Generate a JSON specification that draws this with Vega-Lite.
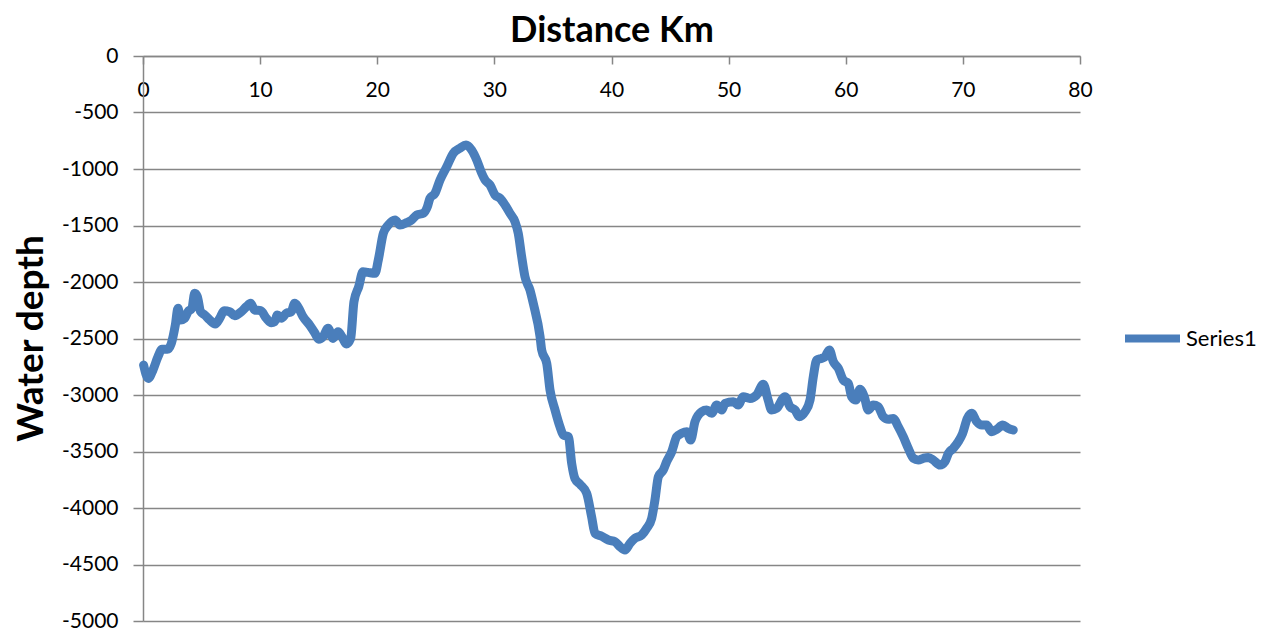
{
  "$schema": "https://vega.github.io/schema/vega-lite/v6.json",
  "width": 937,
  "height": 565,
  "autosize": {"type": "none"},
  "padding": {"left": 143, "top": 56, "right": 184, "bottom": 14},
  "background": "white",
  "config": {
    "view": {"stroke": null},
    "font": "Lato"
  },
  "data": {
    "values": [
      {"km": 0.05, "depth": -2735, "series": "Series1"},
      {"km": 0.45, "depth": -2853, "series": "Series1"},
      {"km": 0.85, "depth": -2779, "series": "Series1"},
      {"km": 1.28, "depth": -2661, "series": "Series1"},
      {"km": 1.62, "depth": -2596, "series": "Series1"},
      {"km": 2.08, "depth": -2596, "series": "Series1"},
      {"km": 2.42, "depth": -2543, "series": "Series1"},
      {"km": 2.76, "depth": -2381, "series": "Series1"},
      {"km": 2.99, "depth": -2233, "series": "Series1"},
      {"km": 3.22, "depth": -2336, "series": "Series1"},
      {"km": 3.56, "depth": -2321, "series": "Series1"},
      {"km": 3.84, "depth": -2263, "series": "Series1"},
      {"km": 4.18, "depth": -2233, "series": "Series1"},
      {"km": 4.41, "depth": -2100, "series": "Series1"},
      {"km": 4.64, "depth": -2130, "series": "Series1"},
      {"km": 4.92, "depth": -2263, "series": "Series1"},
      {"km": 5.27, "depth": -2292, "series": "Series1"},
      {"km": 5.69, "depth": -2336, "series": "Series1"},
      {"km": 6.17, "depth": -2372, "series": "Series1"},
      {"km": 6.55, "depth": -2321, "series": "Series1"},
      {"km": 6.92, "depth": -2254, "series": "Series1"},
      {"km": 7.40, "depth": -2263, "series": "Series1"},
      {"km": 7.83, "depth": -2298, "series": "Series1"},
      {"km": 8.39, "depth": -2263, "series": "Series1"},
      {"km": 8.82, "depth": -2219, "series": "Series1"},
      {"km": 9.19, "depth": -2189, "series": "Series1"},
      {"km": 9.54, "depth": -2248, "series": "Series1"},
      {"km": 10.05, "depth": -2254, "series": "Series1"},
      {"km": 10.53, "depth": -2321, "series": "Series1"},
      {"km": 10.96, "depth": -2360, "series": "Series1"},
      {"km": 11.24, "depth": -2351, "series": "Series1"},
      {"km": 11.47, "depth": -2292, "series": "Series1"},
      {"km": 11.81, "depth": -2321, "series": "Series1"},
      {"km": 12.24, "depth": -2277, "series": "Series1"},
      {"km": 12.66, "depth": -2263, "series": "Series1"},
      {"km": 12.95, "depth": -2189, "series": "Series1"},
      {"km": 13.23, "depth": -2219, "series": "Series1"},
      {"km": 13.66, "depth": -2307, "series": "Series1"},
      {"km": 14.23, "depth": -2381, "series": "Series1"},
      {"km": 14.66, "depth": -2449, "series": "Series1"},
      {"km": 15.0, "depth": -2507, "series": "Series1"},
      {"km": 15.37, "depth": -2484, "series": "Series1"},
      {"km": 15.80, "depth": -2410, "series": "Series1"},
      {"km": 16.22, "depth": -2499, "series": "Series1"},
      {"km": 16.65, "depth": -2440, "series": "Series1"},
      {"km": 16.99, "depth": -2484, "series": "Series1"},
      {"km": 17.36, "depth": -2549, "series": "Series1"},
      {"km": 17.73, "depth": -2499, "series": "Series1"},
      {"km": 18.01, "depth": -2175, "series": "Series1"},
      {"km": 18.42, "depth": -2041, "series": "Series1"},
      {"km": 18.78, "depth": -1909, "series": "Series1"},
      {"km": 19.2, "depth": -1915, "series": "Series1"},
      {"km": 19.81, "depth": -1923, "series": "Series1"},
      {"km": 20.09, "depth": -1805, "series": "Series1"},
      {"km": 20.52, "depth": -1569, "series": "Series1"},
      {"km": 20.94, "depth": -1496, "series": "Series1"},
      {"km": 21.52, "depth": -1451, "series": "Series1"},
      {"km": 21.94, "depth": -1496, "series": "Series1"},
      {"km": 22.51, "depth": -1475, "series": "Series1"},
      {"km": 22.94, "depth": -1451, "series": "Series1"},
      {"km": 23.37, "depth": -1407, "series": "Series1"},
      {"km": 23.93, "depth": -1392, "series": "Series1"},
      {"km": 24.28, "depth": -1334, "series": "Series1"},
      {"km": 24.50, "depth": -1259, "series": "Series1"},
      {"km": 24.93, "depth": -1215, "series": "Series1"},
      {"km": 25.36, "depth": -1097, "series": "Series1"},
      {"km": 25.93, "depth": -980, "series": "Series1"},
      {"km": 26.49, "depth": -861, "series": "Series1"},
      {"km": 27.06, "depth": -817, "series": "Series1"},
      {"km": 27.58, "depth": -788, "series": "Series1"},
      {"km": 28.06, "depth": -832, "series": "Series1"},
      {"km": 28.49, "depth": -920, "series": "Series1"},
      {"km": 28.92, "depth": -1038, "series": "Series1"},
      {"km": 29.2, "depth": -1097, "series": "Series1"},
      {"km": 29.63, "depth": -1142, "series": "Series1"},
      {"km": 30.05, "depth": -1230, "series": "Series1"},
      {"km": 30.48, "depth": -1259, "series": "Series1"},
      {"km": 30.91, "depth": -1319, "series": "Series1"},
      {"km": 31.33, "depth": -1392, "series": "Series1"},
      {"km": 31.76, "depth": -1466, "series": "Series1"},
      {"km": 32.04, "depth": -1569, "series": "Series1"},
      {"km": 32.33, "depth": -1776, "series": "Series1"},
      {"km": 32.61, "depth": -1953, "series": "Series1"},
      {"km": 33.04, "depth": -2071, "series": "Series1"},
      {"km": 33.32, "depth": -2189, "series": "Series1"},
      {"km": 33.9, "depth": -2484, "series": "Series1"},
      {"km": 34.04, "depth": -2602, "series": "Series1"},
      {"km": 34.47, "depth": -2720, "series": "Series1"},
      {"km": 34.75, "depth": -2956, "series": "Series1"},
      {"km": 35.18, "depth": -3133, "series": "Series1"},
      {"km": 35.6, "depth": -3281, "series": "Series1"},
      {"km": 35.89, "depth": -3354, "series": "Series1"},
      {"km": 36.32, "depth": -3369, "series": "Series1"},
      {"km": 36.6, "depth": -3605, "series": "Series1"},
      {"km": 36.88, "depth": -3740, "series": "Series1"},
      {"km": 37.31, "depth": -3790, "series": "Series1"},
      {"km": 37.88, "depth": -3870, "series": "Series1"},
      {"km": 38.3, "depth": -4077, "series": "Series1"},
      {"km": 38.59, "depth": -4224, "series": "Series1"},
      {"km": 39.16, "depth": -4250, "series": "Series1"},
      {"km": 39.73, "depth": -4283, "series": "Series1"},
      {"km": 40.3, "depth": -4298, "series": "Series1"},
      {"km": 40.73, "depth": -4343, "series": "Series1"},
      {"km": 41.15, "depth": -4372, "series": "Series1"},
      {"km": 41.58, "depth": -4313, "series": "Series1"},
      {"km": 42.0, "depth": -4268, "series": "Series1"},
      {"km": 42.58, "depth": -4239, "series": "Series1"},
      {"km": 43.0, "depth": -4180, "series": "Series1"},
      {"km": 43.43, "depth": -4091, "series": "Series1"},
      {"km": 43.71, "depth": -3929, "series": "Series1"},
      {"km": 44.0, "depth": -3723, "series": "Series1"},
      {"km": 44.42, "depth": -3664, "series": "Series1"},
      {"km": 44.71, "depth": -3590, "series": "Series1"},
      {"km": 45.14, "depth": -3502, "series": "Series1"},
      {"km": 45.57, "depth": -3369, "series": "Series1"},
      {"km": 45.99, "depth": -3339, "series": "Series1"},
      {"km": 46.42, "depth": -3325, "series": "Series1"},
      {"km": 46.76, "depth": -3398, "series": "Series1"},
      {"km": 47.13, "depth": -3236, "series": "Series1"},
      {"km": 47.7, "depth": -3148, "series": "Series1"},
      {"km": 48.13, "depth": -3133, "series": "Series1"},
      {"km": 48.56, "depth": -3162, "series": "Series1"},
      {"km": 48.98, "depth": -3089, "series": "Series1"},
      {"km": 49.41, "depth": -3133, "series": "Series1"},
      {"km": 49.69, "depth": -3074, "series": "Series1"},
      {"km": 50.4, "depth": -3059, "series": "Series1"},
      {"km": 50.82, "depth": -3089, "series": "Series1"},
      {"km": 51.25, "depth": -3015, "series": "Series1"},
      {"km": 51.82, "depth": -3030, "series": "Series1"},
      {"km": 52.39, "depth": -3000, "series": "Series1"},
      {"km": 52.96, "depth": -2905, "series": "Series1"},
      {"km": 53.39, "depth": -3050, "series": "Series1"},
      {"km": 53.67, "depth": -3133, "series": "Series1"},
      {"km": 54.1, "depth": -3118, "series": "Series1"},
      {"km": 54.81, "depth": -3015, "series": "Series1"},
      {"km": 55.24, "depth": -3104, "series": "Series1"},
      {"km": 55.67, "depth": -3133, "series": "Series1"},
      {"km": 56.03, "depth": -3192, "series": "Series1"},
      {"km": 56.52, "depth": -3148, "series": "Series1"},
      {"km": 56.95, "depth": -3044, "series": "Series1"},
      {"km": 57.23, "depth": -2838, "series": "Series1"},
      {"km": 57.52, "depth": -2690, "series": "Series1"},
      {"km": 57.94, "depth": -2676, "series": "Series1"},
      {"km": 58.23, "depth": -2661, "series": "Series1"},
      {"km": 58.6, "depth": -2602, "series": "Series1"},
      {"km": 58.94, "depth": -2705, "series": "Series1"},
      {"km": 59.37, "depth": -2764, "series": "Series1"},
      {"km": 59.79, "depth": -2867, "series": "Series1"},
      {"km": 60.22, "depth": -2897, "series": "Series1"},
      {"km": 60.5, "depth": -3015, "series": "Series1"},
      {"km": 60.87, "depth": -3044, "series": "Series1"},
      {"km": 61.21, "depth": -2950, "series": "Series1"},
      {"km": 61.58, "depth": -3015, "series": "Series1"},
      {"km": 61.92, "depth": -3133, "series": "Series1"},
      {"km": 62.35, "depth": -3089, "series": "Series1"},
      {"km": 62.77, "depth": -3104, "series": "Series1"},
      {"km": 63.2, "depth": -3192, "series": "Series1"},
      {"km": 63.63, "depth": -3215, "series": "Series1"},
      {"km": 64.05, "depth": -3207, "series": "Series1"},
      {"km": 64.48, "depth": -3280, "series": "Series1"},
      {"km": 64.91, "depth": -3369, "series": "Series1"},
      {"km": 65.34, "depth": -3472, "series": "Series1"},
      {"km": 65.77, "depth": -3560, "series": "Series1"},
      {"km": 66.19, "depth": -3575, "series": "Series1"},
      {"km": 66.62, "depth": -3560, "series": "Series1"},
      {"km": 67.05, "depth": -3552, "series": "Series1"},
      {"km": 67.47, "depth": -3575, "series": "Series1"},
      {"km": 68.05, "depth": -3620, "series": "Series1"},
      {"km": 68.47, "depth": -3590, "series": "Series1"},
      {"km": 68.76, "depth": -3516, "series": "Series1"},
      {"km": 69.18, "depth": -3472, "series": "Series1"},
      {"km": 69.61, "depth": -3413, "series": "Series1"},
      {"km": 69.98, "depth": -3339, "series": "Series1"},
      {"km": 70.38, "depth": -3207, "series": "Series1"},
      {"km": 70.75, "depth": -3162, "series": "Series1"},
      {"km": 71.18, "depth": -3236, "series": "Series1"},
      {"km": 71.61, "depth": -3266, "series": "Series1"},
      {"km": 72.03, "depth": -3266, "series": "Series1"},
      {"km": 72.46, "depth": -3325, "series": "Series1"},
      {"km": 72.89, "depth": -3304, "series": "Series1"},
      {"km": 73.40, "depth": -3266, "series": "Series1"},
      {"km": 73.88, "depth": -3295, "series": "Series1"},
      {"km": 74.3, "depth": -3310, "series": "Series1"}
    ]
  },
  "mark": {
    "type": "line",
    "interpolate": "monotone",
    "strokeWidth": 9,
    "strokeCap": "round",
    "strokeJoin": "round"
  },
  "encoding": {
    "x": {
      "field": "km",
      "type": "quantitative",
      "scale": {"domain": [0, 80], "nice": false, "zero": false},
      "axis": {
        "orient": "bottom",
        "offset": -565,
        "values": [0, 10, 20, 30, 40, 50, 60, 70, 80],
        "grid": false,
        "domainColor": "#868686",
        "domainWidth": 1.5,
        "tickColor": "#868686",
        "tickWidth": 1.5,
        "tickSize": 8,
        "labelPadding": 26,
        "labelBaseline": "middle",
        "labelFont": "Lato",
        "labelFontSize": 21,
        "labelColor": "#000000",
        "labelFlush": false,
        "labelOverlap": false,
        "title": "Distance Km",
        "titleFont": "Lato",
        "titleFontSize": 36,
        "titleFontWeight": "bold",
        "titleColor": "#000000",
        "titleX": 468.5,
        "titleY": -26,
        "titleAlign": "center",
        "titleBaseline": "middle"
      }
    },
    "y": {
      "field": "depth",
      "type": "quantitative",
      "scale": {"domain": [-5000, 0], "nice": false, "zero": false},
      "axis": {
        "values": [-5000, -4500, -4000, -3500, -3000, -2500, -2000, -1500, -1000, -500, 0],
        "labelExpr": "'' + datum.value",
        "grid": true,
        "gridColor": "#868686",
        "gridWidth": 1.5,
        "domainColor": "#868686",
        "domainWidth": 1.5,
        "tickColor": "#868686",
        "tickWidth": 1.5,
        "tickSize": 10,
        "labelPadding": 15,
        "labelFont": "Lato",
        "labelFontSize": 21,
        "labelColor": "#000000",
        "labelFlush": false,
        "labelOverlap": false,
        "title": "Water depth",
        "titleFont": "Lato",
        "titleFontSize": 37,
        "titleFontWeight": "bold",
        "titleColor": "#000000",
        "titleAngle": 270,
        "titleX": -112,
        "titleY": 282,
        "titleAlign": "center",
        "titleBaseline": "middle"
      }
    },
    "color": {
      "field": "series",
      "type": "nominal",
      "scale": {"range": ["#4A7EBB"]},
      "legend": {
        "title": null,
        "orient": "none",
        "legendX": 978,
        "legendY": 251,
        "padding": 0,
        "symbolType": "stroke",
        "symbolSize": 3025,
        "symbolStrokeWidth": 8,
        "labelOffset": 2,
        "labelFont": "Lato",
        "labelFontSize": 22,
        "labelColor": "#000000"
      }
    }
  }
}
